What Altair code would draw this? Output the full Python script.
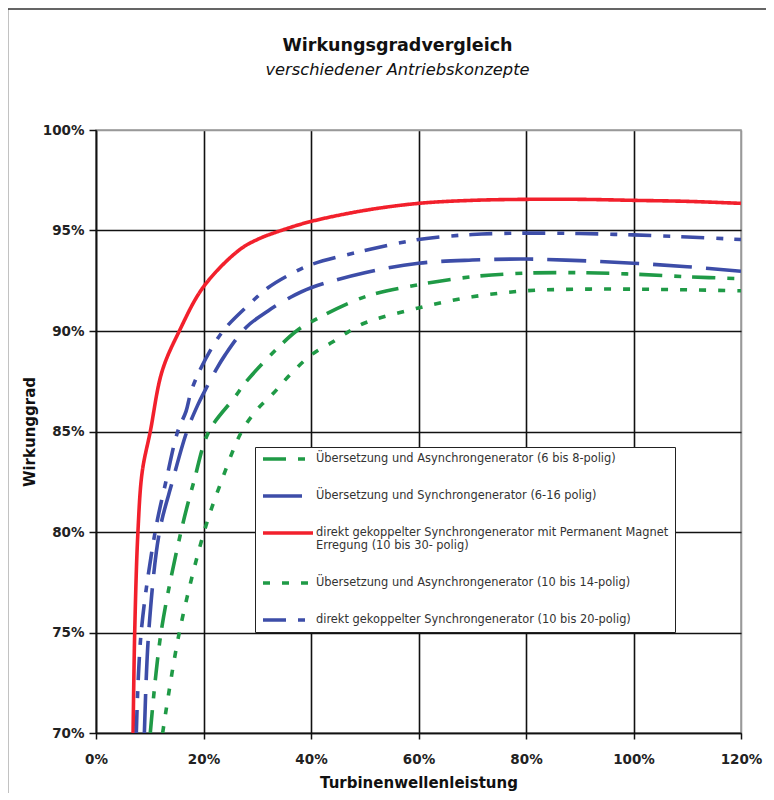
import altair as alt
import pandas as pd

# ---- data (x = Turbinenwellenleistung in %, y = Wirkungsgrad in %) ----
names = [
    "Übersetzung und Asynchrongenerator (6 bis 8-polig)",
    "Übersetzung und Synchrongenerator (6-16 polig)",
    "direkt gekoppelter Synchrongenerator mit Permanent Magnet|Erregung (10 bis 30- polig)",
    "Übersetzung und  Asynchrongenerator (10 bis 14-polig)",
    "direkt gekoppelter Synchrongenerator (10 bis 20-polig)",
]

green_dd_x = [10.1, 12.1, 15.8, 18.2, 21.0, 25.8, 28, 33.6, 37.3, 40, 50, 60, 70, 80, 90, 100, 110, 120]
green_dd_y = [70, 75, 80, 82.5, 85, 86.7, 87.5, 89.1, 90.0, 90.45, 91.7, 92.3, 92.7, 92.88, 92.9, 92.83, 92.7, 92.6]

blue_ld_x = [9.0, 9.8, 11.8, 14.2, 16.9, 18.9, 20.2, 22.4, 24, 28, 32, 36, 40, 50, 60, 70, 80, 90, 100, 110, 120]
blue_ld_y = [70, 75, 80, 82.5, 85, 86.3, 87.0, 88.1, 88.8, 90.2, 91.0, 91.65, 92.15, 92.9, 93.37, 93.53, 93.58, 93.5, 93.37, 93.2, 92.97]

red_x = [6.9, 7.2, 7.8, 8.6, 10.1, 12.3, 15.5, 20, 26.5, 30, 35, 40, 50, 60, 70, 80, 90, 100, 110, 120]
red_y = [70, 75, 80, 83, 85, 88, 90, 92.2, 94.0, 94.55, 95.05, 95.45, 96.0, 96.35, 96.5, 96.55, 96.55, 96.5, 96.45, 96.35]

green_dot_x = [12.4, 15.5, 20.1, 23.3, 27.1, 30, 33, 36, 40, 44, 47.2, 50, 60, 70, 80, 90, 100, 110, 120]
green_dot_y = [70, 75, 80, 82.5, 85, 86.1, 86.9, 87.8, 88.8, 89.45, 90.0, 90.4, 91.15, 91.7, 92.0, 92.08, 92.08, 92.05, 92.0]

blue_dd_x = [7.5, 8.4, 11.0, 13.0, 15.2, 16.75, 17.7, 19.6, 22.4, 24.25, 28, 32, 36, 40, 50, 60, 70, 80, 90, 100, 110, 120]
blue_dd_y = [70, 75, 80, 82.5, 85, 86.0, 87.0, 88.2, 89.53, 90.2, 91.2, 92.15, 92.8, 93.3, 94.0, 94.55, 94.8, 94.87, 94.85, 94.78, 94.68, 94.55]

series_x = [green_dd_x, blue_ld_x, red_x, green_dot_x, blue_dd_x]
series_y = [green_dd_y, blue_ld_y, red_y, green_dot_y, blue_dd_y]

x_ticks = [0, 20, 40, 60, 80, 100, 120]
y_ticks = [70, 75, 80, 85, 90, 95, 100]

# ---- styling ----
colors = ["#1f9a46", "#3d4da8", "#f2202c", "#1f9a46", "#3d4da8"]
dashes = [[23, 12, 7, 11], [39, 14], [1, 0], [7, 12], [23, 12, 7, 11]]
widths = [3.6, 3.6, 2.2, 4.0, 3.6]

rows = []
for n, xs, ys in zip(names, series_x, series_y):
    for xv, yv in zip(xs, ys):
        rows.append({"serie": n, "x": xv, "y": yv})
df = pd.DataFrame(rows)

FONT = "DejaVu Sans"

# outer picture frame (decoration only)
frame = alt.Chart(alt.Data(values=[{}])).mark_rect(
    fill="transparent", stroke="#333", strokeWidth=1.6
).encode(
    x=alt.value(-88.5), x2=alt.value(900), y=alt.value(-121), y2=alt.value(900)
)

legend_kw = dict(
    orient="none",
    legendX=159,
    legendY=317,
    title=None,
    symbolType="stroke",
    symbolSize=2500,
    symbolStrokeWidth=3.6,
    labelFont=FONT,
    labelFontSize=11.4,
    labelColor="#333333",
    labelLimit=500,
    labelOffset=1,
    labelExpr="split(datum.label, '|')",
    padding=6,
    strokeColor="#222222",
    fillColor="white",
    clipHeight=12,
    rowPadding=25,
)

axis_common = dict(
    grid=True,
    gridWidth=1.6,
    domainColor="#111111",
    domainWidth=1.6,
    tickColor="#111111",
    tickWidth=1.5,
    labelFont=FONT,
    labelFontSize=13.5,
    labelFontWeight="bold",
    labelColor="#222222",
    labelFlush=False,
    titleFont=FONT,
    titleFontSize=15,
    titleFontWeight="bold",
    titleColor="#111111",
    labelExpr="datum.value + '%'",
)

lines = alt.Chart(df).mark_line(interpolate="catmull-rom", clip=True).encode(
    x=alt.X(
        "x:Q",
        scale=alt.Scale(domain=[0, 120], nice=False),
        axis=alt.Axis(
            values=x_ticks,
            title="Turbinenwellenleistung",
            gridColor={"condition": {"test": "datum.value === 120", "value": "#999999"}, "value": "#111111"},
            tickSize=6,
            labelPadding=13,
            titlePadding=10,
            **axis_common,
        ),
    ),
    y=alt.Y(
        "y:Q",
        scale=alt.Scale(domain=[70, 100], nice=False, zero=False),
        axis=alt.Axis(
            values=y_ticks,
            title="Wirkunggrad",
            gridColor={"condition": {"test": "datum.value === 100", "value": "#999999"}, "value": "#111111"},
            tickSize=7,
            labelPadding=5,
            titlePadding=5,
            **axis_common,
        ),
    ),
    color=alt.Color(
        "serie:N",
        scale=alt.Scale(domain=names, range=colors),
        sort=names,
        legend=alt.Legend(**legend_kw),
    ),
    strokeDash=alt.StrokeDash(
        "serie:N",
        scale=alt.Scale(domain=names, range=dashes),
        sort=names,
        legend=alt.Legend(**legend_kw),
    ),
    strokeWidth=alt.StrokeWidth(
        "serie:N", scale=alt.Scale(domain=names, range=widths), legend=None
    ),
)

chart = alt.layer(frame, lines).properties(
    width=645,
    height=603,
    padding={"left": 88, "top": 122, "right": 25, "bottom": 60},
    autosize=alt.AutoSizeParams(type="none"),
    title=alt.TitleParams(
        text="Wirkungsgradvergleich",
        subtitle="verschiedener Antriebskonzepte",
        font=FONT,
        fontSize=17.5,
        fontWeight="bold",
        color="#111111",
        subtitleFont=FONT,
        subtitleFontSize=16.3,
        subtitleFontStyle="italic",
        subtitleColor="#111111",
        subtitlePadding=7,
        anchor="middle",
        frame="group",
        dx=-21,
        offset=-70,
    ),
).configure_view(stroke="#999999", strokeWidth=1.5)

chart.save("out.html", embed_options={"renderer": "svg", "actions": False})
